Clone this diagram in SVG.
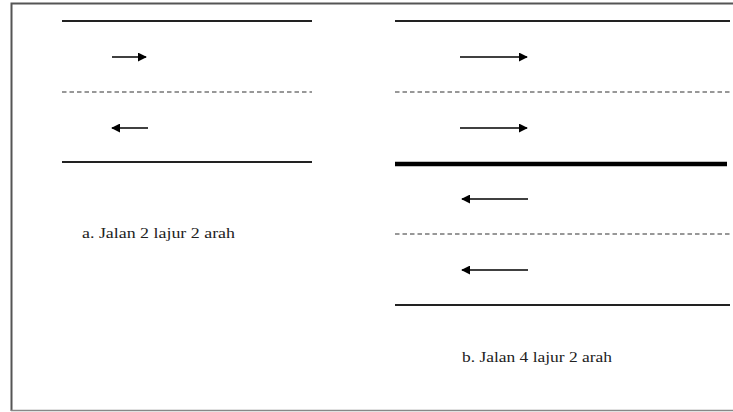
<svg xmlns="http://www.w3.org/2000/svg" width="733" height="412" viewBox="0 0 733 412">
<defs>
<style>
.solid{stroke:#222;stroke-width:1.8;fill:none}
.thick{stroke:#000;stroke-width:4.5;fill:none}
.dash{stroke:#333;stroke-width:1.2;stroke-dasharray:4.5 3;fill:none}
.arr{stroke:#000;stroke-width:1.6;fill:none;marker-end:url(#ah)}
.lbl{font-family:"Liberation Serif","Times New Roman",serif;font-size:15px;fill:#222}
</style>
<marker id="ah" viewBox="0 0 10 10" refX="9" refY="5" markerWidth="9" markerHeight="9" markerUnits="userSpaceOnUse" orient="auto">
<path d="M0,0 L10,5 L0,10 Z" fill="#000"/>
</marker>
</defs>
<rect x="0" y="0" width="733" height="412" fill="#fff"/>
<path d="M11.5,411 V3.5 H733" stroke="#555" stroke-width="2" fill="none"/>
<line x1="11" y1="410.5" x2="733" y2="410.5" stroke="#888" stroke-width="1.5"/>
<g id="panel-a">
<line class="solid" x1="62" y1="21" x2="312" y2="21"/>
<line class="dash" x1="62" y1="92" x2="312" y2="92"/>
<line class="solid" x1="62" y1="162" x2="312" y2="162"/>
<text class="lbl" x="82" y="238" textLength="153" lengthAdjust="spacingAndGlyphs">a. Jalan 2 lajur 2 arah</text>
</g>
<g id="panel-b">
<line class="solid" x1="395" y1="21" x2="730" y2="21"/>
<line class="dash" x1="395" y1="92" x2="730" y2="92"/>
<line class="thick" x1="395" y1="164" x2="727" y2="164"/>
<line class="dash" x1="395" y1="234" x2="730" y2="234"/>
<line class="solid" x1="395" y1="305" x2="730" y2="305"/>
<text class="lbl" x="462" y="362" textLength="150" lengthAdjust="spacingAndGlyphs">b. Jalan 4 lajur 2 arah</text>
</g>
<g id="connectors">
<line class="arr" x1="112" y1="57" x2="146" y2="57"/>
<line class="arr" x1="148" y1="128" x2="112" y2="128"/>
<line class="arr" x1="460" y1="57" x2="527" y2="57"/>
<line class="arr" x1="460" y1="128" x2="527" y2="128"/>
<line class="arr" x1="528" y1="199" x2="462" y2="199"/>
<line class="arr" x1="528" y1="270" x2="462" y2="270"/>
</g>
</svg>
